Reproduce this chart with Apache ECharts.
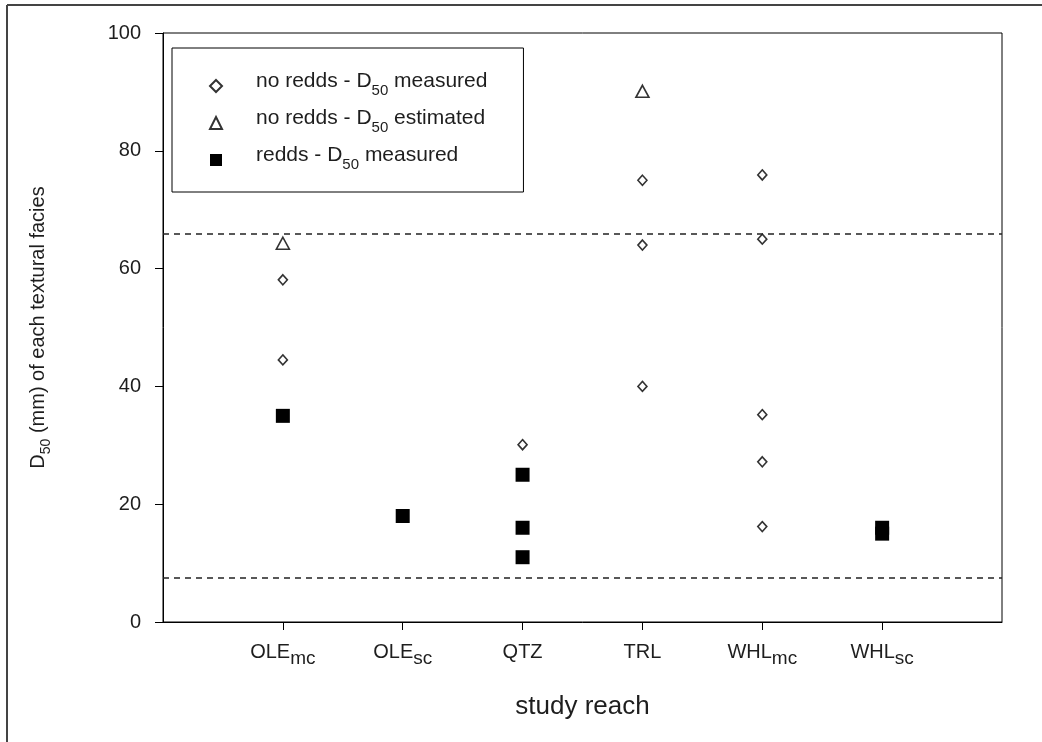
<!DOCTYPE html>
<html>
<head>
<meta charset="utf-8">
<script src="https://cdn.jsdelivr.net/npm/echarts@6/dist/echarts.min.js"></script>
<style>html,body{margin:0;padding:0;background:#fff}#c{width:1042px;height:742px}</style>
</head>
<body>
<div id="c"></div>
<script>
// categories (text after "_" is a subscript)
const categories = ['OLE_mc', 'OLE_sc', 'QTZ', 'TRL', 'WHL_mc', 'WHL_sc'];
const yTicks = [0, 20, 40, 60, 80, 100];
// no redds - D50 measured (diamonds)
const measuredCat = ['OLE_mc', 'OLE_mc', 'QTZ', 'TRL', 'TRL', 'TRL', 'WHL_mc', 'WHL_mc', 'WHL_mc', 'WHL_mc', 'WHL_mc'];
const measuredVal = [58.1, 44.5, 30.1, 75.0, 64.0, 40.0, 75.9, 65.0, 35.2, 27.2, 16.2];
// no redds - D50 estimated (triangles)
const estimatedCat = ['OLE_mc', 'TRL'];
const estimatedVal = [64.3, 90.1];
// redds - D50 measured (squares)
const reddsCat = ['OLE_mc', 'OLE_sc', 'QTZ', 'QTZ', 'QTZ', 'WHL_sc', 'WHL_sc'];
const reddsVal = [35.0, 18.0, 25.0, 16.0, 11.0, 16.0, 15.0];
// reference lines
const refLines = [66, 7.5];

const font = 'Arial, "Liberation Sans", Helvetica, sans-serif';
const ink = '#1e1e1e';
const axisCats = ['', ...categories, ' '];
function pair(cats, vals) { return cats.map((c, i) => [c, vals[i]]); }
function subLabel(s) {
  const p = s.split('_');
  return p.length > 1 ? '{m|' + p[0] + '}{s|' + p[1] + '}' : '{m|' + p[0] + '}';
}
const chart = echarts.init(document.getElementById('c'));
const legendNames = {
  a: 'no redds - D50 measured',
  b: 'no redds - D50 estimated',
  c: 'redds - D50 measured'
};
chart.setOption({
  animation: false,
  backgroundColor: '#fff',
  textStyle: { fontFamily: font },
  grid: { left: 163, right: 40, top: 33, bottom: 120, show: true, borderColor: '#000', borderWidth: 1 },
  graphic: [
    { type: 'line', shape: { x1: 7, y1: 5, x2: 1042, y2: 5 }, style: { stroke: '#444', lineWidth: 2 } },
    { type: 'line', shape: { x1: 7, y1: 5, x2: 7, y2: 742 }, style: { stroke: '#444', lineWidth: 2 } }
  ],
  legend: {
    orient: 'vertical',
    left: 172, top: 48,
    padding: [23, 36, 20, 37],
    borderColor: '#000', borderWidth: 1,
    itemWidth: 12, itemHeight: 12, itemGap: 10,
    selectedMode: false,
    data: [
      { name: legendNames.a, icon: 'diamond' },
      { name: legendNames.b, icon: 'triangle' },
      { name: legendNames.c, icon: 'rect' }
    ],
    formatter: function (n) {
      const parts = n.split('D50');
      return '{f|' + parts[0] + 'D}{s|50}{m|' + parts[1] + '}';
    },
    textStyle: {
      rich: {
        f: { fontSize: 21, color: ink, fontFamily: font, lineHeight: 24, verticalAlign: 'bottom', padding: [0, 0, 6, 29] },
        m: { fontSize: 21, color: ink, fontFamily: font, lineHeight: 24, verticalAlign: 'bottom', padding: [0, 0, 6, 0] },
        s: { fontSize: 15, color: ink, fontFamily: font, lineHeight: 16, verticalAlign: 'bottom' }
      }
    }
  },
  xAxis: {
    type: 'category',
    data: axisCats,
    boundaryGap: false,
    name: 'study reach',
    nameLocation: 'middle',
    nameGap: 72,
    nameTextStyle: { fontSize: 26, color: ink, fontFamily: font },
    axisLine: { lineStyle: { color: '#000', width: 1 } },
    axisTick: { show: true, length: 8, interval: (i, v) => v.trim() !== '', lineStyle: { color: '#000' } },
    axisLabel: {
      interval: 0, margin: 23,
      formatter: v => v.trim() === '' ? '' : subLabel(v),
      rich: {
        m: { fontSize: 20, color: ink, fontFamily: font, lineHeight: 23, verticalAlign: 'bottom', padding: [0, 0, 6, 0] },
        s: { fontSize: 19, color: ink, fontFamily: font, lineHeight: 21, verticalAlign: 'bottom' }
      }
    },
    splitLine: { show: false }
  },
  yAxis: {
    type: 'value', min: yTicks[0], max: yTicks[yTicks.length - 1], interval: 20,
    name: '{m|D}{s|50}{m| (mm) of each textural facies}',
    nameLocation: 'middle',
    nameGap: 110,
    nameTextStyle: {
      rich: {
        m: { fontSize: 20, color: ink, fontFamily: font, lineHeight: 23, verticalAlign: 'bottom', padding: [0, 0, 5, 0] },
        s: { fontSize: 14, color: ink, fontFamily: font, lineHeight: 16, verticalAlign: 'bottom' }
      }
    },
    axisLine: { show: true, lineStyle: { color: '#000', width: 1 } },
    axisTick: { show: true, length: 8, lineStyle: { color: '#000' } },
    axisLabel: { fontSize: 20, color: ink, margin: 22, fontFamily: font },
    splitLine: { show: false }
  },
  series: [
    {
      name: legendNames.a, type: 'scatter', symbol: 'diamond', symbolSize: [9, 10],
      itemStyle: { color: '#fff', borderColor: '#333', borderWidth: 1.6, opacity: 1 },
      data: pair(measuredCat, measuredVal), z: 3,
      markLine: {
        silent: true, symbol: 'none', label: { show: false },
        lineStyle: { type: [6, 5], color: '#222', width: 1.5 },
        data: refLines.map(v => ({ yAxis: v }))
      }
    },
    {
      name: legendNames.b, type: 'scatter', symbol: 'triangle', symbolSize: [13, 12],
      itemStyle: { color: '#fff', borderColor: '#333', borderWidth: 1.6, opacity: 1 },
      data: pair(estimatedCat, estimatedVal), z: 3
    },
    {
      name: legendNames.c, type: 'scatter', symbol: 'rect', symbolSize: 14,
      itemStyle: { color: '#000', borderColor: '#000', borderWidth: 0, opacity: 1 },
      data: pair(reddsCat, reddsVal), z: 3
    }
  ]
});
</script>
</body>
</html>
